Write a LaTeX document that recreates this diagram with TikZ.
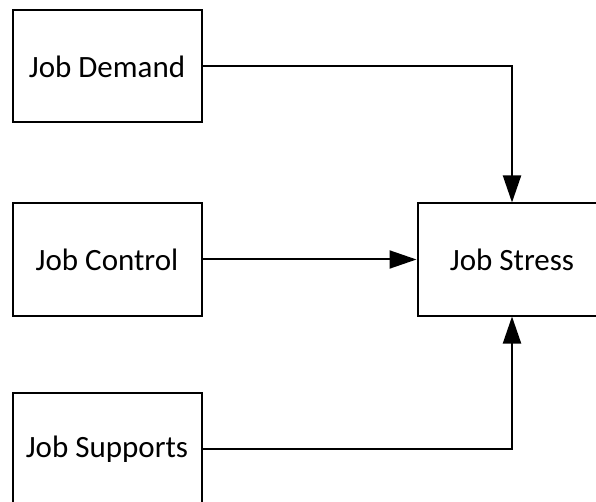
\documentclass[tikz,border=0pt]{standalone}
\usepackage{fontspec}
\setmainfont{Carlito}
\usetikzlibrary{arrows.meta, positioning}

\begin{document}
\begin{tikzpicture}[
  x=1pt, y=-1pt,
  font=\fontsize{31}{36}\selectfont,
  factor/.style={draw, line width=2pt, minimum width=189pt,
                 minimum height=112pt, align=center, inner sep=0pt},
  a/.style={-{Triangle[length=27pt, width=18pt]}, line width=2pt}
]
\useasboundingbox (0,0) rectangle (596,502);
\clip (0,0) rectangle (596,502);

\node[factor] (demand) at (107,66.5) {Job Demand};
\node[factor] (control) at (107,259.5) {Job Control};
\node[factor] (supports) at (107,449) {Job Supports};
\node[factor] (stress) at (512,259.5) {Job Stress};

\draw[a] (demand.east) -| (stress.north);
\draw[a] (control) -- (stress);
\draw[a] (supports.east) -| (stress.south);

\end{tikzpicture}
\end{document}
